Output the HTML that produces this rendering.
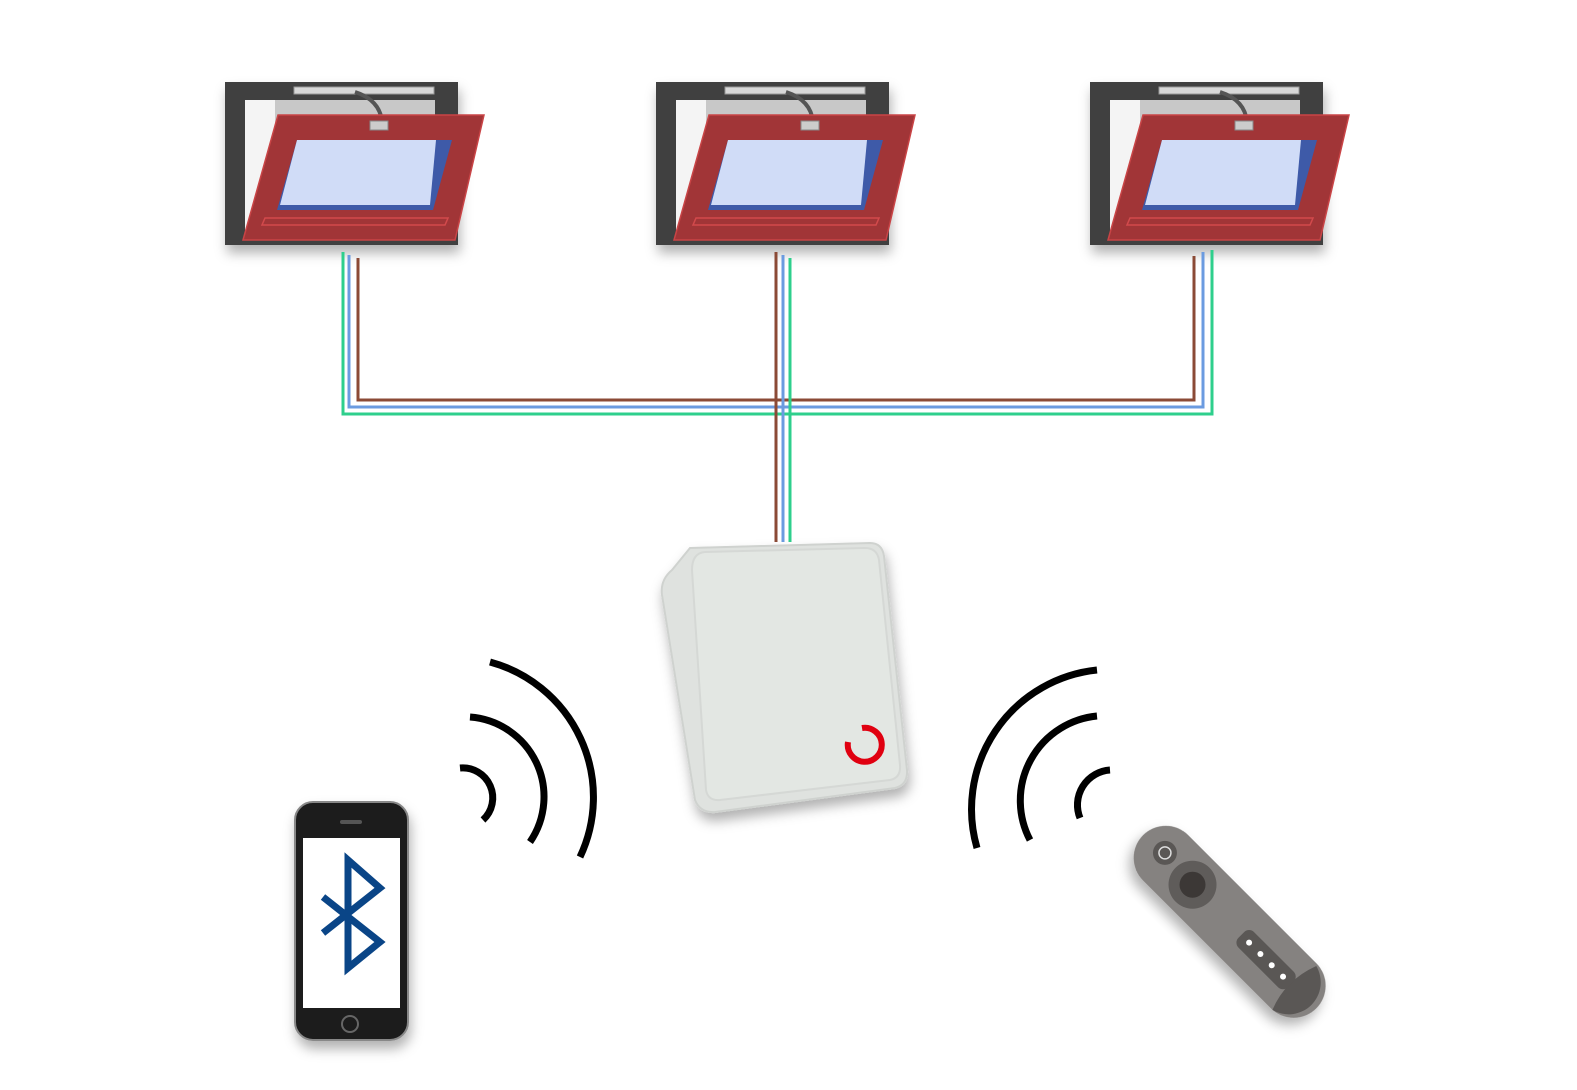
<!DOCTYPE html>
<html><head><style>body{margin:0;background:#fff}svg{display:block}</style></head><body>
<svg width="1577" height="1090" viewBox="0 0 1577 1090" xmlns="http://www.w3.org/2000/svg">
<defs>
<filter id="sh" x="-20%" y="-20%" width="150%" height="150%"><feDropShadow dx="2" dy="8" stdDeviation="6" flood-color="#000" flood-opacity="0.3"/></filter>
<g id="win">
<rect x="225" y="82" width="233" height="163" fill="#3f3f3f" filter="url(#sh)"/>
<rect x="245" y="100" width="190" height="130" fill="#c8c8c8"/>
<rect x="245" y="100" width="30" height="130" fill="#f4f4f4"/>
<rect x="294" y="87" width="140" height="7" fill="#d8d8d8" stroke="#999" stroke-width="1"/>
<path d="M355 92 Q380 100 382 122" stroke="#555" stroke-width="4" fill="none"/>
<polygon points="278,115 484,115 455,240 243,240" fill="#a13537" stroke="#c94446" stroke-width="1.5"/>
<polygon points="265,218 448,218 445,225 262,225" fill="none" stroke="#d24a4c" stroke-width="1.5"/>
<polygon points="297,140 452,140 433,210 277,210" fill="#3e5aa8"/>
<polygon points="297,140 436,140 430,205 280,205" fill="#d0dcf7"/>
<rect x="370" y="121" width="18" height="9" fill="#ccc" stroke="#888"/>
</g>
</defs>
<use href="#win"/>
<use href="#win" transform="translate(431,0)"/>
<use href="#win" transform="translate(865,0)"/>
<g fill="none" stroke-width="3">
<path d="M343 252 V414 H1212 V250" stroke="#2ecf8c"/>
<path d="M349 255 V407 H1203 V252" stroke="#6b9be0"/>
<path d="M358 258 V400 H1194 V256" stroke="#8b4a36"/>
<path d="M776 252 V542" stroke="#8b4a36"/>
<path d="M783 255 V542" stroke="#6b9be0"/>
<path d="M790 258 V542" stroke="#2ecf8c"/>
</g>
<g filter="url(#sh)">
<path d="M690 548 L870 543 Q882 543 884 556 L907 770 Q908 785 895 788 L715 812 Q700 813 695 800 L662 595 Q660 580 672 570 Z" fill="#dfe2df" stroke="#cfd2cf" stroke-width="2"/>
</g>
<path d="M705 552 L865 548 Q877 548 879 560 L900 765 Q901 778 890 780 L720 800 Q708 801 706 790 L692 570 Q692 553 705 552 Z" fill="#e3e7e3" stroke="#d5d8d5" stroke-width="2"/>
<path d="M862 728 A17 17 0 1 1 848 742" fill="none" stroke="#e00010" stroke-width="6"/>
<g fill="none" stroke="#000" stroke-width="7">
<path d="M460 768 A30 30 0 0 1 483 820"/>
<path d="M470 717 A80 80 0 0 1 530 842"/>
<path d="M490 662 A140 140 0 0 1 580 857"/>
<path d="M1110 770 A35 35 0 0 0 1080 818"/>
<path d="M1097 716 A85 85 0 0 0 1030 840"/>
<path d="M1097 670 A140 140 0 0 0 977 848"/>
</g>
<g filter="url(#sh)">
<rect x="295" y="802" width="113" height="238" rx="18" fill="#1b1b1b" stroke="#888" stroke-width="2"/>
</g>
<rect x="303" y="838" width="97" height="170" fill="#fff"/>
<circle cx="350" cy="1024" r="8" fill="none" stroke="#666" stroke-width="2"/>
<rect x="340" y="820" width="22" height="4" rx="2" fill="#555"/>
<path d="M323 897 L380 942 L348 968 V860 L380 888 L323 933" fill="none" stroke="#0a4587" stroke-width="7"/>
<g transform="translate(1230,925) rotate(45)">
<rect x="-125" y="-34" width="245" height="64" rx="32" fill="#858280" filter="url(#sh)"/>
<path d="M90 -32 A32 32 0 0 1 90 30 Q78 0 90 -32Z" fill="#5a5755"/>
<circle cx="-97" cy="-5" r="12" fill="#5a5755"/>
<circle cx="-97" cy="-5" r="6" fill="none" stroke="#ddd" stroke-width="1.5"/>
<circle cx="-55" cy="-2" r="24" fill="#5f5c5a"/>
<circle cx="-55" cy="-2" r="13" fill="#3c3836"/>
<rect x="15" y="-12" width="70" height="22" rx="7" fill="#5a5755"/>
<circle cx="26" cy="-1" r="3" fill="#fff"/><circle cx="42" cy="-1" r="3" fill="#fff"/><circle cx="58" cy="-1" r="3" fill="#fff"/><circle cx="74" cy="-1" r="3" fill="#fff"/>
</g>
</svg>
</body></html>
